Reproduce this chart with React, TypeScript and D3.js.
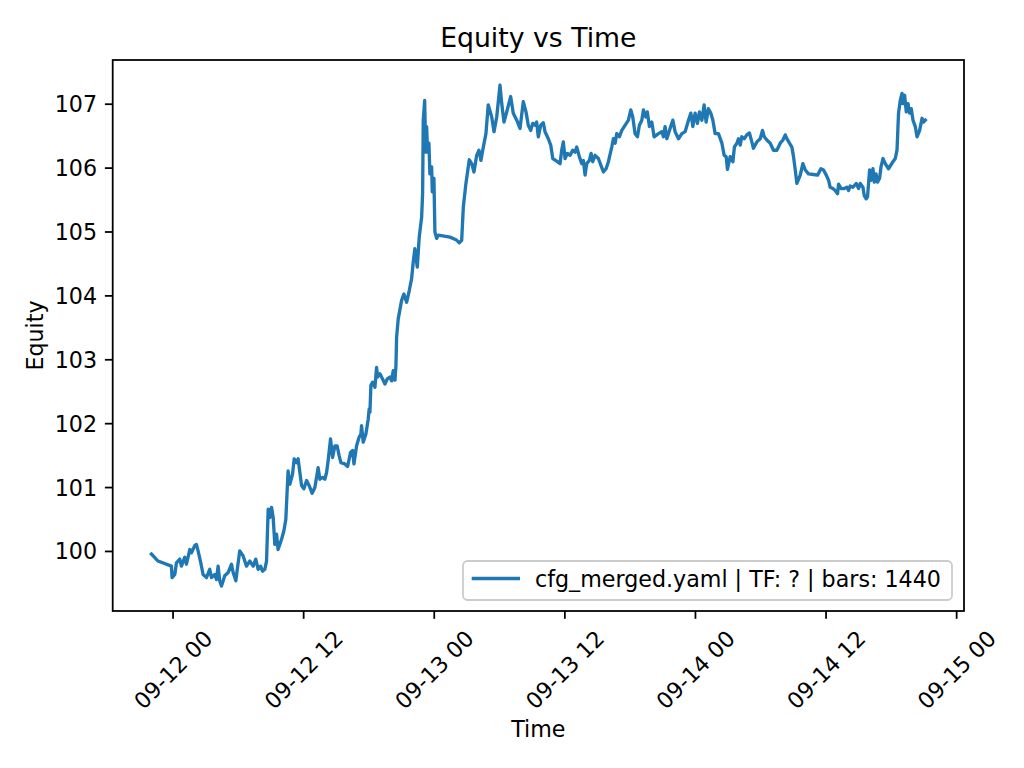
import React from "react";
import * as d3 from "d3";

// Hours after 2025-09-12 00:00 (UTC) for each traced equity point
const hoursFromSep12 = [
  -1.99, -1.38, -0.15, -0.09, 0.16, 0.31, 0.62, 0.77, 1.08, 1.23, 1.54, 1.69, 1.99, 2.15, 2.30, 2.55, 2.76, 3.07, 3.37, 3.53,
  3.83, 3.99, 4.14, 4.29, 4.45, 4.75, 5.06, 5.37, 5.52, 5.77, 5.88, 6.13, 6.44, 6.75, 7.05, 7.36, 7.60, 7.82, 8.04, 8.22,
  8.43, 8.59, 8.74, 8.89, 9.05, 9.20, 9.35, 9.51, 9.65, 9.97, 10.18, 10.36, 10.57, 10.73, 10.98, 11.13, 11.35, 11.49, 11.81, 12.02,
  12.27, 12.51, 12.78, 13.03, 13.33, 13.49, 13.74, 13.95, 14.11, 14.25, 14.47, 14.66, 14.87, 15.08, 15.26, 15.42, 15.78, 16.04, 16.31, 16.50,
  16.62, 16.86, 17.08, 17.26, 17.32, 17.47, 17.72, 17.93, 18.02, 18.09, 18.18, 18.34, 18.55, 18.70, 18.79, 19.01, 19.25, 19.47, 19.68, 19.93,
  20.08, 20.23, 20.39, 20.48, 20.54, 20.69, 21.00, 21.21, 21.46, 21.70, 21.92, 22.07, 22.22, 22.44, 22.62, 22.84, 22.93, 22.99, 23.12, 23.21,
  23.30, 23.39, 23.51, 23.60, 23.76, 23.82, 23.97, 24.06, 24.22, 24.37, 25.44, 26.00, 26.30, 26.52, 26.67, 26.91, 27.22, 27.44, 27.65, 27.90,
  28.11, 28.29, 28.51, 28.75, 28.96, 29.28, 29.49, 29.74, 30.04, 30.20, 30.41, 30.66, 31.02, 31.26, 31.58, 31.88, 32.18, 32.43, 32.64, 32.86,
  33.05, 33.26, 33.41, 33.56, 33.78, 34.02, 34.18, 34.48, 34.70, 34.89, 35.25, 35.56, 35.71, 35.86, 36.02, 36.23, 36.48, 36.72, 36.94, 37.09,
  37.33, 37.55, 37.70, 37.86, 38.01, 38.25, 38.41, 38.56, 38.78, 39.08, 39.30, 39.54, 39.79, 40.00, 40.31, 40.46, 40.62, 40.77, 41.01, 41.23,
  41.53, 41.84, 42.06, 42.24, 42.45, 42.67, 42.85, 43.07, 43.22, 43.44, 43.58, 43.77, 43.99, 44.20, 44.60, 44.91, 45.06, 45.21, 45.37, 45.61,
  45.92, 46.13, 46.44, 46.75, 47.05, 47.36, 47.58, 47.76, 47.97, 48.18, 48.37, 48.59, 48.80, 48.98, 49.19, 49.41, 49.60, 49.81, 50.11, 50.43,
  50.64, 50.82, 50.94, 51.19, 51.44, 51.58, 51.81, 51.95, 52.11, 52.26, 52.48, 52.72, 52.96, 53.18, 53.33, 53.64, 53.95, 54.16, 54.32, 54.56,
  54.87, 55.17, 55.48, 55.79, 56.04, 56.25, 56.40, 56.64, 56.86, 57.01, 57.17, 57.32, 57.63, 57.87, 58.09, 58.39, 58.85, 59.22, 59.53, 59.77,
  60.02, 60.23, 60.38, 60.63, 60.84, 61.06, 61.15, 61.37, 61.67, 61.92, 62.07, 62.22, 62.47, 62.78, 62.99, 63.14, 63.39, 63.51, 63.69, 63.81,
  64.00, 64.13, 64.31, 64.43, 64.59, 64.73, 64.92, 65.05, 65.23, 65.44, 65.74, 66.15, 66.36, 66.52, 66.66, 66.82, 66.98, 67.07, 67.22, 67.37,
  67.53, 67.68, 67.83, 67.99, 68.20, 68.36, 68.60, 68.82, 68.96, 69.12,
];

const equity = [
  99.96, 99.85, 99.77, 99.59, 99.64, 99.82, 99.88, 99.77, 99.91, 99.80, 100.03, 99.98, 100.09, 100.11, 100.01, 99.82, 99.64, 99.59, 99.72, 99.59,
  99.64, 99.56, 99.77, 99.54, 99.46, 99.62, 99.67, 99.80, 99.67, 99.54, 99.69, 100.01, 99.93, 99.77, 99.85, 99.77, 99.88, 99.72, 99.77, 99.69,
  99.72, 99.85, 100.66, 100.53, 100.69, 100.53, 100.11, 100.27, 100.03, 100.19, 100.32, 100.50, 101.26, 101.05, 101.21, 101.45, 101.39, 101.45, 101.03, 100.98,
  101.11, 101.03, 100.91, 101.00, 101.31, 101.13, 101.16, 101.13, 101.24, 101.42, 101.76, 101.47, 101.65, 101.65, 101.50, 101.39, 101.37, 101.33, 101.55, 101.58,
  101.37, 101.65, 101.78, 101.84, 101.97, 101.71, 101.84, 102.07, 102.23, 102.18, 102.60, 102.65, 102.57, 102.88, 102.73, 102.78, 102.70, 102.62, 102.70, 102.73,
  102.67, 102.83, 102.68, 102.91, 103.35, 103.64, 103.93, 104.03, 103.90, 104.08, 104.27, 104.53, 104.74, 104.45, 104.92, 105.23, 105.60, 106.75, 107.06, 106.25,
  106.65, 106.25, 106.39, 105.91, 106.02, 105.63, 105.84, 105.00, 104.90, 104.95, 104.92, 104.88, 104.83, 104.87, 105.39, 105.76, 106.13, 106.07, 105.94, 106.20,
  106.28, 106.12, 106.33, 106.54, 106.99, 106.80, 106.57, 106.80, 107.30, 107.01, 106.72, 106.88, 107.12, 106.86, 106.75, 106.62, 107.04, 106.88, 106.67, 106.59,
  106.70, 106.67, 106.72, 106.49, 106.67, 106.71, 106.57, 106.46, 106.36, 106.15, 106.11, 106.07, 106.28, 106.41, 106.15, 106.23, 106.20, 106.28, 106.25, 106.33,
  106.18, 106.07, 106.12, 105.89, 106.07, 106.12, 106.23, 106.10, 106.20, 106.15, 106.05, 105.94, 105.99, 106.10, 106.33, 106.46, 106.39, 106.54, 106.49, 106.59,
  106.67, 106.75, 106.91, 106.80, 106.54, 106.49, 106.67, 106.75, 106.91, 106.80, 106.88, 106.65, 106.72, 106.49, 106.54, 106.57, 106.49, 106.65, 106.46, 106.59,
  106.75, 106.57, 106.46, 106.54, 106.57, 106.75, 106.86, 106.65, 106.86, 106.70, 106.88, 106.75, 106.99, 106.72, 106.93, 106.86, 106.75, 106.54, 106.54, 106.39,
  106.20, 106.18, 105.98, 106.18, 106.10, 106.33, 106.39, 106.46, 106.36, 106.49, 106.46, 106.52, 106.55, 106.41, 106.31, 106.41, 106.46, 106.59, 106.49, 106.44,
  106.39, 106.28, 106.28, 106.39, 106.44, 106.52, 106.46, 106.39, 106.33, 106.18, 105.97, 105.76, 105.89, 106.07, 105.97, 105.91, 105.90, 105.89, 105.99, 105.97,
  105.89, 105.81, 105.70, 105.68, 105.65, 105.60, 105.75, 105.68, 105.68, 105.70, 105.65, 105.72, 105.70, 105.76, 105.68, 105.76, 105.70, 105.57, 105.52, 105.55,
  105.97, 105.81, 105.99, 105.78, 105.91, 105.78, 105.84, 106.02, 106.15, 106.07, 105.99, 106.10, 106.15, 106.28, 106.86, 107.06, 107.17, 107.01, 107.14, 106.88,
  107.01, 106.86, 106.93, 106.75, 106.65, 106.49, 106.59, 106.78, 106.72, 106.75,
];

const yTickValues = [100, 101, 102, 103, 104, 105, 106, 107];
const xTickHours = [0, 12, 24, 36, 48, 60, 72];
const titleText = "Equity vs Time";
const xLabelText = "Time";
const yLabelText = "Equity";
const legendText = "cfg_merged.yaml | TF: ? | bars: 1440";

const W = 1024;
const H = 768;
const M = { left: 112.7, right: 964, top: 60, bottom: 611 };
const BLUE = "#1f77b4";
const FONT = "'DejaVu Sans', sans-serif";

const base = Date.UTC(2025, 8, 12, 0, 0, 0);
const toDate = (h: number) => new Date(base + h * 3600 * 1000);

export default function App() {
  const data = hoursFromSep12.map((h, i) => ({ t: toDate(h), v: equity[i] }));
  const [t0, t1] = d3.extent(data, (d) => +d.t) as [number, number];
  const tPad = (t1 - t0) * 0.05;
  const [v0, v1] = d3.extent(data, (d) => d.v) as [number, number];
  const vPad = (v1 - v0) * 0.05;

  const x = d3
    .scaleUtc()
    .domain([new Date(t0 - tPad), new Date(t1 + tPad)])
    .range([M.left, M.right]);
  const y = d3.scaleLinear().domain([v0 - vPad, v1 + vPad]).range([M.bottom, M.top]);

  const line = d3
    .line<{ t: Date; v: number }>()
    .x((d) => x(d.t))
    .y((d) => y(d.v));

  const fmt = d3.utcFormat("%m-%d %H");
  const xTicks = xTickHours.map(toDate);
  const tickLen = 7.8;
  const pad = 7.8;
  const fs = 22.2;

  const legX = 463;
  const legY = 561;
  const legW = 489;
  const legH = 39;

  return (
    <svg
      width={W}
      height={H}
      style={{ position: "absolute", left: 0, top: 0, background: "#fff" }}
      fontFamily={FONT}
    >
      <rect x={0} y={0} width={W} height={H} fill="#fff" />
      <path
        d={line(data) || ""}
        fill="none"
        stroke={BLUE}
        strokeWidth={3.33}
        strokeLinejoin="round"
        strokeLinecap="square"
      />
      {/* spines */}
      <rect
        x={M.left}
        y={M.top}
        width={M.right - M.left}
        height={M.bottom - M.top}
        fill="none"
        stroke="#000"
        strokeWidth={1.78}
      />
      {/* y ticks */}
      {yTickValues.map((v) => (
        <g key={v}>
          <line x1={M.left - tickLen} x2={M.left} y1={y(v)} y2={y(v)} stroke="#000" strokeWidth={1.78} />
          <text x={M.left - tickLen - pad} y={y(v)} dy="0.36em" textAnchor="end" fontSize={fs} fill="#000">
            {v}
          </text>
        </g>
      ))}
      {/* x ticks */}
      {xTicks.map((t, i) => {
        const px = x(t);
        const cy = M.bottom + tickLen + pad + 43;
        return (
          <g key={i}>
            <line x1={px} x2={px} y1={M.bottom} y2={M.bottom + tickLen} stroke="#000" strokeWidth={1.78} />
            <text
              x={px}
              y={cy}
              textAnchor="middle"
              dominantBaseline="central"
              fontSize={fs}
              fill="#000"
              transform={`rotate(-45 ${px} ${cy})`}
            >
              {fmt(t)}
            </text>
          </g>
        );
      })}
      {/* title and labels */}
      <text x={(M.left + M.right) / 2} y={46.7} textAnchor="middle" fontSize={26.7} fill="#000">
        {titleText}
      </text>
      <text x={(M.left + M.right) / 2} y={737} textAnchor="middle" fontSize={fs} fill="#000">
        {xLabelText}
      </text>
      <text
        x={43}
        y={(M.top + M.bottom) / 2}
        textAnchor="middle"
        fontSize={fs}
        fill="#000"
        transform={`rotate(-90 43 ${(M.top + M.bottom) / 2})`}
      >
        {yLabelText}
      </text>
      {/* legend */}
      <rect
        x={legX}
        y={legY}
        width={legW}
        height={legH}
        rx={4.4}
        ry={4.4}
        fill="#fff"
        fillOpacity={0.8}
        stroke="#cccccc"
        strokeWidth={1.8}
      />
      <line x1={legX + 8.7} x2={legX + 57} y1={legY + 17.5} y2={legY + 17.5} stroke={BLUE} strokeWidth={3.33} />
      <text x={legX + 72} y={legY + 25.5} fontSize={fs} fill="#000">
        {legendText}
      </text>
    </svg>
  );
}
